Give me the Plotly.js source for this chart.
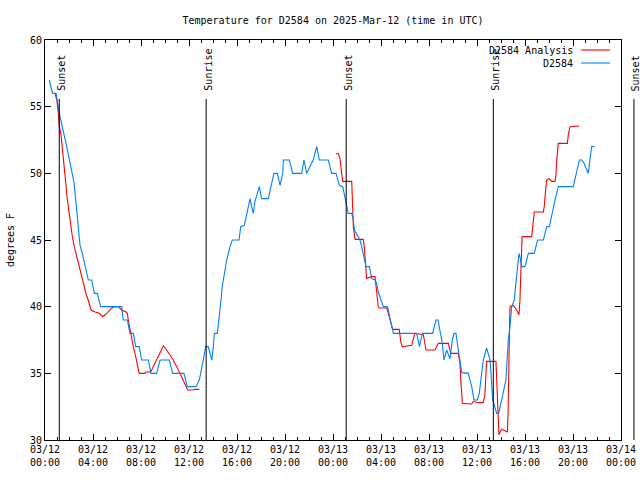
<!DOCTYPE html>
<html>
<head>
<meta charset="utf-8">
<script src="https://cdn.plot.ly/plotly-3.0.1.min.js"></script>
<style>html,body{margin:0;padding:0;background:#fff;}#chart{width:640px;height:480px;}</style>
</head>
<body>
<div id="chart"></div>
<script>
// Hours since 2025-03-12 00:00 UTC
var obsHours = [0.36,0.55,0.63,0.92,1.25,1.81,2.22,2.42,2.64,2.78,2.92,3.11,3.33,3.47,3.61,3.89,4.11,4.36,4.64,6.39,6.52,6.86,7.08,7.36,7.56,7.85,8.06,8.61,8.83,9.30,9.59,10.36,10.64,11.58,11.86,12.59,12.86,13.19,13.39,13.60,13.90,14.03,14.11,14.36,14.50,14.64,14.77,14.91,15.14,15.42,15.61,16.17,16.31,16.61,16.81,17.09,17.22,17.36,17.50,17.86,18.05,18.61,18.89,19.08,19.36,19.59,19.81,19.86,20.36,20.64,21.39,21.58,21.81,22.08,22.35,22.64,22.86,23.61,23.89,24.25,24.53,24.81,25.00,25.14,25.27,25.56,25.70,25.78,25.98,26.25,26.39,26.52,26.66,26.75,27.03,27.23,27.50,27.64,27.77,27.91,28.19,28.53,28.61,28.75,28.89,29.03,30.97,31.09,31.21,31.32,31.46,32.31,32.44,32.58,32.75,32.92,33.11,33.25,33.47,33.75,33.94,34.08,34.25,34.44,34.58,34.73,35.27,35.56,35.75,36.03,36.19,36.52,36.80,37.09,37.31,37.50,37.64,37.81,37.92,38.19,38.41,38.61,38.75,38.89,39.11,39.22,39.31,39.39,39.50,39.61,39.72,40.00,40.14,40.28,40.77,40.91,41.05,41.53,41.67,41.81,42.03,42.22,42.36,42.50,42.64,42.77,44.02,44.16,44.31,44.53,44.73,44.92,45.08,45.27,45.41,45.55,45.78];
var obsTemp = [57,56.3,56,56,54.25,52,50.25,49.3,47.25,45.9,44.6,44,43.2,42.6,42,42,41,41,40,40,39,39,38,38,37,37,36,36,35,35,36,36,35,35,34,34,34.5,36,37,37,36,37,38,38,39,40.25,41.5,42.4,43.5,44.5,45,45,46,46.1,47,48.1,47.5,47,47.9,49,48.1,48.1,49.25,50,50,49.1,50,51,51,50,50,51,50,50.5,51,52,51,51,50,50,49.1,49,48.1,47.5,47,47,46.5,45.75,45.4,45,44.5,44,43.5,43,43,42.1,42,41.75,41.1,40.75,40,40,39.75,39.1,38.5,38,38,37.5,37,37.5,38,38,38.5,39,39,38.25,37.25,36,36.75,36.1,37.5,38,38,36.75,35.9,35.05,35,34,33,33,33.5,36,36.9,36,33,32.4,32,32,32.5,33.5,34.5,37.5,38.5,40,40.5,41.6,42.3,43,44,43.6,43,43,43.5,44,44,44.5,45,45,45.55,46,46,46.9,47.55,48,48.5,49,49,49.5,50.25,51,51,50.75,50.4,50,51,52,52];

var anaHours = [0.84,0.98,1.11,1.19,1.33,1.44,1.52,1.61,1.72,1.83,1.94,2.08,2.16,2.28,2.44,2.64,2.78,2.92,3.06,3.27,3.47,3.60,3.84,4.17,4.52,4.81,5.15,5.56,5.83,6.11,6.39,6.75,6.86,6.94,7.08,7.22,7.36,7.56,7.72,7.85,8.34,8.42,8.81,9.02,9.45,9.86,10.14,10.69,11.25,11.53,11.81,11.89,12.30,12.50,12.86,
  18.5,
  24.25,24.44,24.58,24.67,24.72,24.81,25.56,25.65,25.70,25.84,26.52,26.60,26.66,26.72,26.80,27.15,27.50,27.64,27.77,27.85,28.48,28.61,28.83,28.98,29.52,29.66,29.78,30.56,30.69,30.83,31.53,31.67,31.75,32.50,32.78,33.61,33.81,34.44,34.58,34.64,34.78,35.56,35.69,36.11,36.52,36.66,36.80,37.58,37.64,37.72,37.83,37.92,38.06,38.53,38.59,38.69,38.75,39.03,39.31,39.50,39.58,39.64,39.68,39.76,40.56,40.64,40.69,40.77,41.53,41.61,41.67,41.75,41.81,42.00,42.22,42.50,42.58,42.64,42.72,42.77,43.53,43.61,43.75,44.53];
var anaTemp = [56,55.5,54.5,53.5,52.9,52,51.1,50.4,49.4,48.25,47.4,46.75,46,45.25,44.5,43.75,43.25,42.75,42.1,41.5,40.8,40.5,39.75,39.6,39.5,39.25,39.5,39.9,40,40,39.75,39.6,39.5,39,38.25,37.5,37,36.25,35.4,35,35,35.1,35.1,35.5,36.4,37.05,36.75,36,35,34.5,33.9,33.75,33.75,33.8,33.8,
  null,
  51.45,51.5,51.1,50.5,49.75,49.4,49.4,47.25,45.9,45.05,45.05,44.55,43.5,42.6,42.1,42.25,42.25,41.1,40,39.9,39.9,39.5,38.8,38.3,38.3,37.3,37,37.1,37.6,38,37.9,37.25,36.75,36.75,37.25,37.25,36.5,36.5,35.75,34.6,32.75,32.7,32.9,32.8,32.8,33.4,35.9,35.9,34.25,32.25,30.4,30.6,30.8,30.6,32,37.5,40,40.1,39.75,39.4,40.5,42.25,44.25,45.25,45.25,46.1,46.75,47.1,47.1,47.55,48.25,49.1,49.5,49.6,49.4,49.4,49.9,50.9,51.75,52.25,52.25,52.9,53.5,53.55];

var sunHours = [1.19, 13.43, 25.10, 37.36, 49.08];
var sunLabels = ["Sunset", "Sunrise", "Sunset", "Sunrise", "Sunset"];

var tickHours = [0,4,8,12,16,20,24,28,32,36,40,44,48];
var tickLabels = ["03/12<br>00:00","03/12<br>04:00","03/12<br>08:00","03/12<br>12:00","03/12<br>16:00","03/12<br>20:00","03/13<br>00:00","03/13<br>04:00","03/13<br>08:00","03/13<br>12:00","03/13<br>16:00","03/13<br>20:00","03/14<br>00:00"];
var yTicks = [30,35,40,45,50,55,60];

var seriesNames = ["D2584 Analysis", "D2584"];
var seriesColors = ["#ff0000", "#0080ff"];

var BASE = Date.UTC(2025, 2, 12, 0, 0, 0);
var X_MIN_H = 0, X_MAX_H = 48;
function pad(n){ return (n < 10 ? "0" : "") + n; }
function toDate(h){
  var d = new Date(BASE + Math.round(h * 3600000));
  return d.getUTCFullYear() + "-" + pad(d.getUTCMonth()+1) + "-" + pad(d.getUTCDate()) + " " +
         pad(d.getUTCHours()) + ":" + pad(d.getUTCMinutes()) + ":" + pad(d.getUTCSeconds());
}

var FONT = "DejaVu Sans Mono, Liberation Mono, monospace";

var traces = [
  {x: anaHours.map(toDate), y: anaTemp, mode: "lines", name: seriesNames[0],
   line: {color: seriesColors[0], width: 1.1}, connectgaps: false, showlegend: false, hoverinfo: "skip"},
  {x: obsHours.map(toDate), y: obsTemp, mode: "lines", name: seriesNames[1],
   line: {color: seriesColors[1], width: 1.1}, showlegend: false, hoverinfo: "skip"}
];

var shapes = [];
var annotations = [];
var lineTop = 0.8525, textBottom = 0.8675;
sunHours.forEach(function(h, i){
  var px = (h - X_MIN_H) / (X_MAX_H - X_MIN_H);
  shapes.push({type: "line", xref: "paper", yref: "paper", x0: px, x1: px, y0: 0, y1: lineTop,
               line: {color: "#000", width: 1}});
  annotations.push({xref: "paper", yref: "paper", x: px, y: textBottom, xshift: 2.5,
                    text: sunLabels[i], textangle: -90, showarrow: false,
                    xanchor: "center", yanchor: "bottom",
                    font: {family: FONT, size: 10, color: "#000"}});
});

// legend (text, then line sample)
var legY = [0.975, 0.9425];
seriesNames.forEach(function(n, i){
  annotations.push({xref: "paper", yref: "paper", x: 0.9205, y: legY[i], text: n, showarrow: false,
                    xanchor: "right", yanchor: "middle", font: {family: FONT, size: 10, color: "#000"}});
  shapes.push({type: "line", xref: "paper", yref: "paper", x0: 0.9306, x1: 0.981, y0: legY[i], y1: legY[i],
               line: {color: seriesColors[i], width: 1.1}});
});

var layout = {
  width: 640, height: 480,
  margin: {l: 45, r: 19, t: 40, b: 40, pad: 0},
  paper_bgcolor: "#fff", plot_bgcolor: "#fff",
  font: {family: FONT, size: 10, color: "#000"},
  title: {text: "Temperature for D2584 on 2025-Mar-12 (time in UTC)", x: 0.5, xref: "paper",
          y: 1 - 20/480, yref: "container", yanchor: "middle", font: {family: FONT, size: 10, color: "#000"}},
  xaxis: {type: "date", range: [toDate(X_MIN_H), toDate(X_MAX_H)],
          tickmode: "array", tickvals: tickHours.map(toDate), ticktext: tickLabels,
          ticks: "inside", ticklen: 6, tickcolor: "#000", tickwidth: 1,
          minor: {ticks: "inside", ticklen: 3, tickcolor: "#000", dtick: 3600000, tick0: toDate(0), showgrid: false},
          showline: true, linecolor: "#000", linewidth: 1, mirror: "ticks",
          showgrid: false, zeroline: false, tickfont: {family: FONT, size: 10, color: "#000"}},
  yaxis: {range: [30, 60], tickmode: "array", tickvals: yTicks, ticktext: yTicks.map(String),
          ticks: "inside", ticklen: 6, tickcolor: "#000", tickwidth: 1,
          showline: true, linecolor: "#000", linewidth: 1, mirror: "ticks",
          showgrid: false, zeroline: false, tickfont: {family: FONT, size: 10, color: "#000"},
          title: {text: "degrees F", font: {family: FONT, size: 10, color: "#000"}, standoff: 13}},
  shapes: shapes,
  annotations: annotations,
  showlegend: false
};

Plotly.newPlot("chart", traces, layout, {staticPlot: true, displayModeBar: false});
</script>
</body>
</html>
